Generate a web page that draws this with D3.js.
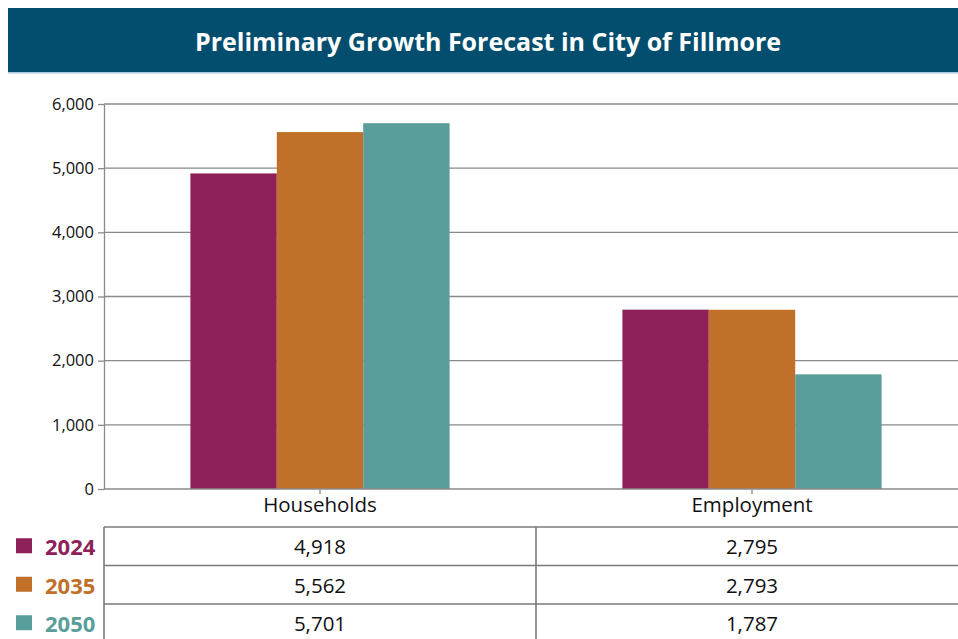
<!DOCTYPE html>
<html>
<head>
<meta charset="utf-8">
<script src="https://cdn.jsdelivr.net/npm/d3@7"></script>
<style>
  body { margin: 0; background: #fff; }
  svg text { font-family: 'Open Sans', 'Noto Sans', sans-serif; }
</style>
</head>
<body>
<div id="chart"></div>
<script>
const TITLE = 'Preliminary Growth Forecast in City of Fillmore'
const categories = ['Households', 'Employment']
const years = ['2024', '2035', '2050']
const values2024 = [4918, 2795]
const values2035 = [5562, 2793]
const values2050 = [5701, 1787]
const yTicks = [0, 1000, 2000, 3000, 4000, 5000, 6000]
const colors = ['#8e2258', '#c07029', '#5a9e9b']

const WIDTH = 958
const HEIGHT = 639
const series = [values2024, values2035, values2050]

const svg = d3.select('#chart')
  .append('svg')
  .attr('width', WIDTH)
  .attr('height', HEIGHT)

// title banner
svg.append('rect')
  .attr('x', 8).attr('y', 8)
  .attr('width', WIDTH).attr('height', 64)
  .attr('fill', '#034e6e')
svg.append('rect')
  .attr('x', 8).attr('y', 72)
  .attr('width', WIDTH).attr('height', 1.5)
  .attr('fill', '#a9c9d9')
svg.append('text')
  .attr('x', 488).attr('y', 41)
  .attr('text-anchor', 'middle')
  .attr('dominant-baseline', 'central')
  .attr('fill', '#fff')
  .attr('font-size', 25)
  .attr('font-weight', 700)
  .text(TITLE)

const x0 = d3.scaleBand()
  .domain(categories)
  .range([104, 968])
  .paddingInner(0.4)
  .paddingOuter(0.2)
const x1 = d3.scaleBand()
  .domain(years)
  .range([0, x0.bandwidth()])
const y = d3.scaleLinear()
  .domain([0, 6000])
  .range([489, 104])

// gridlines
svg.append('g')
  .selectAll('line')
  .data(yTicks.filter(t => t > 0))
  .enter()
  .append('line')
  .attr('x1', 104).attr('x2', WIDTH)
  .attr('y1', d => y(d)).attr('y2', d => y(d))
  .attr('stroke', '#8a8a8a')
  .attr('stroke-width', 1.3)

// bars
const gCat = svg.append('g')
  .selectAll('g')
  .data(categories)
  .enter()
  .append('g')
  .attr('transform', d => `translate(${x0(d)},0)`)
gCat.selectAll('rect')
  .data((d, ci) => years.map((yr, si) => ({ yr, si, value: series[si][ci] })))
  .enter()
  .append('rect')
  .attr('x', d => x1(d.yr))
  .attr('width', x1.bandwidth())
  .attr('y', d => y(d.value))
  .attr('height', d => y(0) - y(d.value))
  .attr('fill', d => colors[d.si])

// y axis
const yAxis = svg.append('g')
  .attr('transform', 'translate(104,0)')
  .call(d3.axisLeft(y).tickValues(yTicks).tickFormat(d3.format(',')).tickSize(6).tickSizeOuter(0))
yAxis.selectAll('path, line').attr('stroke', '#8a8a8a').attr('stroke-width', 1.3)
yAxis.selectAll('text')
  .attr('font-size', 16.5)
  .attr('fill', '#111')
  .attr('x', -10)

// x axis
const xAxis = svg.append('g')
  .attr('transform', 'translate(0,489)')
  .call(d3.axisBottom(x0).tickSize(5).tickSizeOuter(0))
xAxis.select('.domain').attr('d', `M104,0H${WIDTH}`)
xAxis.selectAll('path, line').attr('stroke', '#8a8a8a').attr('stroke-width', 1.3)
xAxis.selectAll('text')
  .attr('font-size', 20.5)
  .attr('fill', '#111')
  .attr('y', 8)

// data table
const ROW_TOP = 527
const ROW_H = 38.5
const rowY = d3.scaleLinear().domain([0, 1]).range([ROW_TOP, ROW_TOP + ROW_H])
const table = svg.append('g')
for (let i = 0; i <= years.length; i++) {
  table.append('line')
    .attr('x1', 104).attr('x2', WIDTH)
    .attr('y1', rowY(i)).attr('y2', rowY(i))
    .attr('stroke', '#7a7a7a').attr('stroke-width', 1.6)
}
const colEdges = [x0.range()[0], x0.range()[0] + x0.step()]
colEdges.forEach(cx => {
  table.append('line')
    .attr('x1', cx).attr('x2', cx)
    .attr('y1', rowY(0)).attr('y2', rowY(years.length))
    .attr('stroke', '#7a7a7a').attr('stroke-width', 1.6)
})
years.forEach((yr, si) => {
  const cy = rowY(si + 0.5)
  table.append('rect')
    .attr('x', 16).attr('y', cy - 8)
    .attr('width', 16).attr('height', 15)
    .attr('fill', colors[si])
  table.append('text')
    .attr('x', 45).attr('y', cy)
    .attr('dominant-baseline', 'central')
    .attr('font-size', 22)
    .attr('font-weight', 700)
    .attr('fill', colors[si])
    .text(yr)
  categories.forEach((cat, ci) => {
    table.append('text')
      .attr('x', x0(cat) + x0.bandwidth() / 2)
      .attr('y', cy)
      .attr('text-anchor', 'middle')
      .attr('dominant-baseline', 'central')
      .attr('font-size', 20.5)
      .attr('fill', '#111')
      .text(d3.format(',')(series[si][ci]))
  })
})
</script>
</body>
</html>
